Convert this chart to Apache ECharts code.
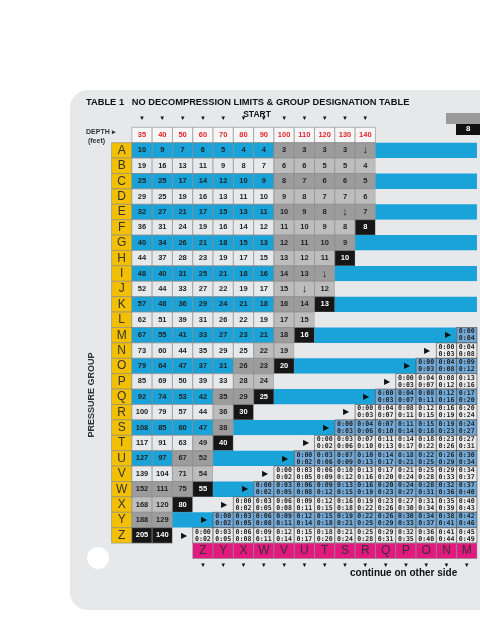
<!DOCTYPE html>
<html><head><meta charset="utf-8">
<script src="https://cdn.jsdelivr.net/npm/echarts@6/dist/echarts.min.js"></script>
<style>html,body{margin:0;padding:0;background:#fff}#c{width:480px;height:640px}</style>
</head><body><div id="c"></div>
<script>
const groups = ['A','B','C','D','E','F','G','H','I','J','K','L','M','N','O','P','Q','R','S','T','U','V','W','X','Y','Z'];
const depths = ['35','40','50','60','70','80','90','100','110','120','130','140'];
// no-decompression table, one array per depth column (A downwards)
const d35 = ['10','19','25','29','32','36','40','44','48','52','57','62','67','73','79','85','92','100','108','117','127','139','152','168','188','205'];
const d40 = ['9','16','25','25','27','31','34','37','40','44','48','51','55','60','64','69','74','79','85','91','97','104','111','120','129','140'];
const d50 = ['7','13','17','19','21','24','26','28','31','33','36','39','41','44','47','50','53','57','60','63','67','71','75','80'];
const d60 = ['6','11','14','16','17','19','21','23','25','27','29','31','33','35','37','39','42','44','47','49','52','54','55'];
const d70 = ['5','9','12','13','15','16','18','19','21','22','24','26','27','29','31','33','35','36','38','40'];
const d80 = ['4','8','10','11','13','14','15','17','18','19','21','22','23','25','26','28','29','30'];
const d90 = ['4','7','9','10','11','12','13','15','16','17','18','19','21','22','23','24','25'];
const d100 = ['3','6','8','9','10','11','12','13','14','15','16','17','18','19','20'];
const d110 = ['3','6','7','8','9','10','11','12','13','↓','14','15','16'];
const d120 = ['3','5','6','7','8','9','10','11','↓','12','13'];
const d130 = ['3','5','6','7','↓','8','9','10'];
const d140 = ['↓','4','5','6','7','8'];
const ndl = [d35,d40,d50,d60,d70,d80,d90,d100,d110,d120,d130,d140];
// first row (group index) shaded grey in each depth column
const greyFrom = [22,22,20,19,16,14,13,0,0,0,0,0];
// surface interval table (hours:minutes), rows Z..M
const siZ = ['0:00|0:02','0:03|0:05','0:06|0:08','0:09|0:11','0:12|0:14','0:15|0:17','0:18|0:20','0:21|0:24','0:25|0:28','0:29|0:31','0:32|0:35','0:36|0:40','0:41|0:44','0:45|0:49'];
const siY = ['0:00|0:02','0:03|0:05','0:06|0:08','0:09|0:11','0:12|0:14','0:15|0:18','0:19|0:21','0:22|0:25','0:26|0:29','0:30|0:33','0:34|0:37','0:38|0:41','0:42|0:46'];
const siX = ['0:00|0:02','0:03|0:05','0:06|0:08','0:09|0:11','0:12|0:15','0:16|0:18','0:19|0:22','0:23|0:26','0:27|0:30','0:31|0:34','0:35|0:39','0:40|0:43'];
const siW = ['0:00|0:02','0:03|0:05','0:06|0:08','0:09|0:12','0:13|0:15','0:16|0:19','0:20|0:23','0:24|0:27','0:28|0:31','0:32|0:36','0:37|0:40'];
const siV = ['0:00|0:02','0:03|0:05','0:06|0:09','0:10|0:12','0:13|0:16','0:17|0:20','0:21|0:24','0:25|0:28','0:29|0:33','0:34|0:37'];
const siU = ['0:00|0:02','0:03|0:06','0:07|0:09','0:10|0:13','0:14|0:17','0:18|0:21','0:22|0:25','0:26|0:29','0:30|0:34'];
const siT = ['0:00|0:02','0:03|0:06','0:07|0:10','0:11|0:13','0:14|0:17','0:18|0:22','0:23|0:26','0:27|0:31'];
const siS = ['0:00|0:03','0:04|0:06','0:07|0:10','0:11|0:14','0:15|0:18','0:19|0:23','0:24|0:27'];
const siR = ['0:00|0:03','0:04|0:07','0:08|0:11','0:12|0:15','0:16|0:19','0:20|0:24'];
const siQ = ['0:00|0:03','0:04|0:07','0:08|0:11','0:12|0:16','0:17|0:20'];
const siP = ['0:00|0:03','0:04|0:07','0:08|0:12','0:13|0:16'];
const siO = ['0:00|0:03','0:04|0:08','0:09|0:12'];
const siN = ['0:00|0:03','0:04|0:08'];
const siM = ['0:00|0:04'];
const siRows = {Z:siZ,Y:siY,X:siX,W:siW,V:siV,U:siU,T:siT,S:siS,R:siR,Q:siQ,P:siP,O:siO,N:siN,M:siM};
const newGroups = ['Z','Y','X','W','V','U','T','S','R','Q','P','O','N','M'];

const NC = 18, Z0 = 4; // column of Z in the interval table
const items = [];
depths.forEach((d,i)=>items.push([i+1,0,1,'hdr',d]));
groups.forEach((g,r)=>{
  const row = r+1, blueRow = r%2===0;
  items.push([0,row,1,'letter',g]);
  let last = 0;
  ndl.forEach((col,ci)=>{
    if (r < col.length){
      last = ci+1;
      let k;
      if (r === col.length-1) k='black';
      else if (r >= greyFrom[ci]) k = blueRow ? 'grey' : 'grey2';
      else k = blueRow ? 'blue':'light';
      items.push([ci+1,row,1,k,col[r]]);
    }
  });
  const si = siRows[g];
  const start = si ? Z0 + (25-r) : NC;
  if (start > last+1) items.push([last+1,row,start-last-1,blueRow?'bandB':'bandL', si ? '▶' : '']);
  if (si) si.forEach((v,j)=>{ if (start+j < NC) items.push([start+j,row,1,blueRow?'siB':'siL',v]); });
});
newGroups.forEach((g,j)=>{ if (Z0+j<NC) items.push([Z0+j,27,1,'pink',g]); });

const FILL = {hdr:'#f6f6f6',letter:'#f2c000',blue:'#1aa3d8',light:'#e6e8ea',grey:'#9c9c9c',grey2:'#bdbdbd',black:'#161616',
  bandB:'#1aa3d8',bandL:'#e6e8ea',siB:'#72a9d6',siL:'#e9e9e9',pink:'#e2197f'};
const TXT = {hdr:'#e3262b',letter:'#333',black:'#fff',pink:'#333'};

const CW = 20.3;
const chart = echarts.init(document.getElementById('c'));
const cats = Array.from({length:NC},(_,i)=>String(i));
const rows = Array.from({length:28},(_,i)=>String(i));
chart.setOption({
  animation:false,
  backgroundColor:'#ffffff',
  grid:{left:142-1.5*CW,top:127.3,width:NC*CW,height:28*15.4,containLabel:false},
  xAxis:{type:'category',data:cats,show:false},
  yAxis:{type:'category',data:rows,inverse:true,show:false},
  graphic:[
    {type:'rect',z:-10,shape:{x:70,y:90,width:440,height:520,r:18},style:{fill:'#e7e8ea'}},
    {type:'circle',shape:{cx:98,cy:558,r:11},style:{fill:'#ffffff'}},
    {type:'text',x:86,y:98,style:{text:'TABLE 1   NO DECOMPRESSION LIMITS & GROUP DESIGNATION TABLE',fontSize:9.3,fontWeight:'bold',fill:'#111',fontFamily:'Liberation Sans'}},
    {type:'text',x:257,y:110,style:{text:'START',fontSize:8.5,fontWeight:'bold',fill:'#111',align:'center',fontFamily:'Liberation Sans'}},
    {type:'text',x:86,y:128,style:{text:'DEPTH ▸\n (feet)',fontSize:7,fontWeight:'bold',fill:'#333',lineHeight:9,fontFamily:'Liberation Sans'}},
    {type:'text',x:92,y:395,rotation:Math.PI/2,style:{text:'PRESSURE GROUP',fontSize:9,fontWeight:'bold',fill:'#333',align:'center',verticalAlign:'middle',fontFamily:'Liberation Sans'}},
    {type:'text',x:350,y:568,style:{text:'continue on other side',fontSize:10,fontWeight:'bold',fill:'#111',fontFamily:'Liberation Sans'}},
    {type:'rect',shape:{x:446,y:113,width:40,height:11},style:{fill:'#9a9a9a'}},
    {type:'rect',shape:{x:456,y:124,width:30,height:11},style:{fill:'#111'}},
    {type:'text',x:466,y:125,style:{text:'8',fontSize:8,fontWeight:'bold',fill:'#fff'}}
  ],
  series:[{
    type:'custom',
    data:items,
    clip:false,
    renderItem:(params,api)=>{
      const col=api.value(0), row=api.value(1), span=api.value(2), k=items[params.dataIndex][3], t=items[params.dataIndex][4];
      const s=api.size([1,1]);
      const p=api.coord([col,row]);
      const x=p[0]-s[0]/2, y=p[1]-s[1]/2, w=s[0]*span, h=s[1];
      const ch=[];
      const band = k==='bandB'||k==='bandL';
      const line = (k==='siB'||k==='siL') ? '#444' : (band ? null : '#8a8a8a');
      ch.push({type:'rect',shape:{x:x,y:y,width:w,height:h},style:{fill:FILL[k],stroke:line,lineWidth:line?0.6:0}});
      if (k==='siB'||k==='siL'){
        ch.push({type:'text',style:{x:x+w/2,y:y+h/2,text:t.replace('|','\n'),align:'center',verticalAlign:'middle',fontSize:6.6,lineHeight:7,fontWeight:'bold',fontFamily:'DejaVu Sans Mono',fill:'#222'}});
      } else if (band){
        if (t) ch.push({type:'text',style:{x:x+w-9,y:y+h/2,text:'▶',align:'center',verticalAlign:'middle',fontSize:8,fill:'#111'}});
      } else {
        ch.push({type:'text',style:{x:x+w/2,y:y+h/2,text:t,align:'center',verticalAlign:'middle',
          fontSize:(k==='letter'||k==='pink')?12:(t==='↓'?11:7.5),fontWeight:(k==='letter'||k==='pink')?'normal':'bold',
          fontFamily:'Liberation Sans',fill:TXT[k]||'#222'}});
      }
      if (k==='hdr') ch.push({type:'text',style:{x:x+w/2,y:y-9,text:'▼',align:'center',verticalAlign:'middle',fontSize:6,fill:'#111'}});
      if (k==='pink') ch.push({type:'text',style:{x:x+w/2,y:y+h+7,text:'▼',align:'center',verticalAlign:'middle',fontSize:6,fill:'#111'}});
      return {type:'group',children:ch};
    }
  }]
});
</script></body></html>
